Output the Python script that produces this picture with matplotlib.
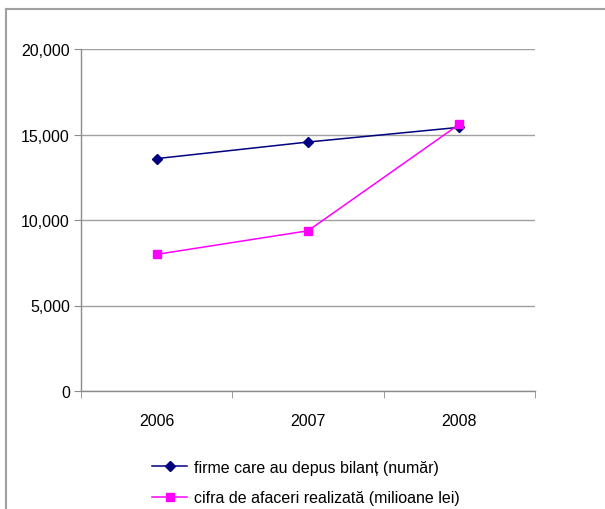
import matplotlib
matplotlib.use('Agg')
import matplotlib.pyplot as plt
from matplotlib.lines import Line2D

plt.rcParams['font.family'] = ['Liberation Sans', 'DejaVu Sans']

years = ['2006', '2007', '2008']
firme = [13590, 14560, 15420]
cifra = [7990, 9370, 15600]
yticks = [0, 5000, 10000, 15000, 20000]
ytick_labels = ['0', '5,000', '10,000', '15,000', '20,000']
label_firme = 'firme care au depus bilanț (număr)'
label_cifra = 'cifra de afaceri realizată (milioane lei)'

fig = plt.figure(figsize=(6.05, 5.1), dpi=100)
ax = fig.add_axes([81 / 605, 1 - 392 / 510, 454 / 605, 342 / 510])

x = list(range(len(years)))
ax.plot(x, firme, '-D', color='#000080', markersize=5, linewidth=1.1, label=label_firme)
ax.plot(x, cifra, '-s', color='#ff00ff', markersize=6, linewidth=1.1, label=label_cifra)

ax.set_xlim(-0.5, 2.5)
ax.set_ylim(0, 20000)
ax.set_yticks(yticks)
ax.set_yticklabels(ytick_labels)
ax.set_xticks(x)
ax.set_xticklabels(years)
ax.set_xticks([-0.5, 0.5, 1.5, 2.5], minor=True)
ax.tick_params(axis='x', which='major', length=0, pad=16)
ax.tick_params(axis='x', which='minor', length=5, color='#8c8c8c', direction='out')
ax.tick_params(axis='y', length=5, color='#8c8c8c', direction='out', pad=3)
ax.tick_params(labelsize=11.5, labelcolor='black')

ax.grid(axis='y', color='#a0a0a0', linewidth=1)
ax.set_axisbelow(True)
for s in ['top', 'right']:
    ax.spines[s].set_visible(False)
for s in ['left', 'bottom']:
    ax.spines[s].set_color('#8c8c8c')
    ax.spines[s].set_linewidth(1)

# outer frame (top and left only visible)
fig.add_artist(Line2D([6 / 605, 1.0], [1 - 10 / 510] * 2, color='#a0a0a0', linewidth=1.5, transform=fig.transFigure))
fig.add_artist(Line2D([6 / 605] * 2, [0, 1 - 10 / 510], color='#a0a0a0', linewidth=1.5, transform=fig.transFigure))

fig.legend(loc='upper left', bbox_to_anchor=(144 / 605, 1 - 453 / 510), frameon=False,
           fontsize=11.5, handlelength=2.2, handletextpad=0.4, labelspacing=0.95, borderpad=0)

fig.savefig('out.png', dpi=100)
